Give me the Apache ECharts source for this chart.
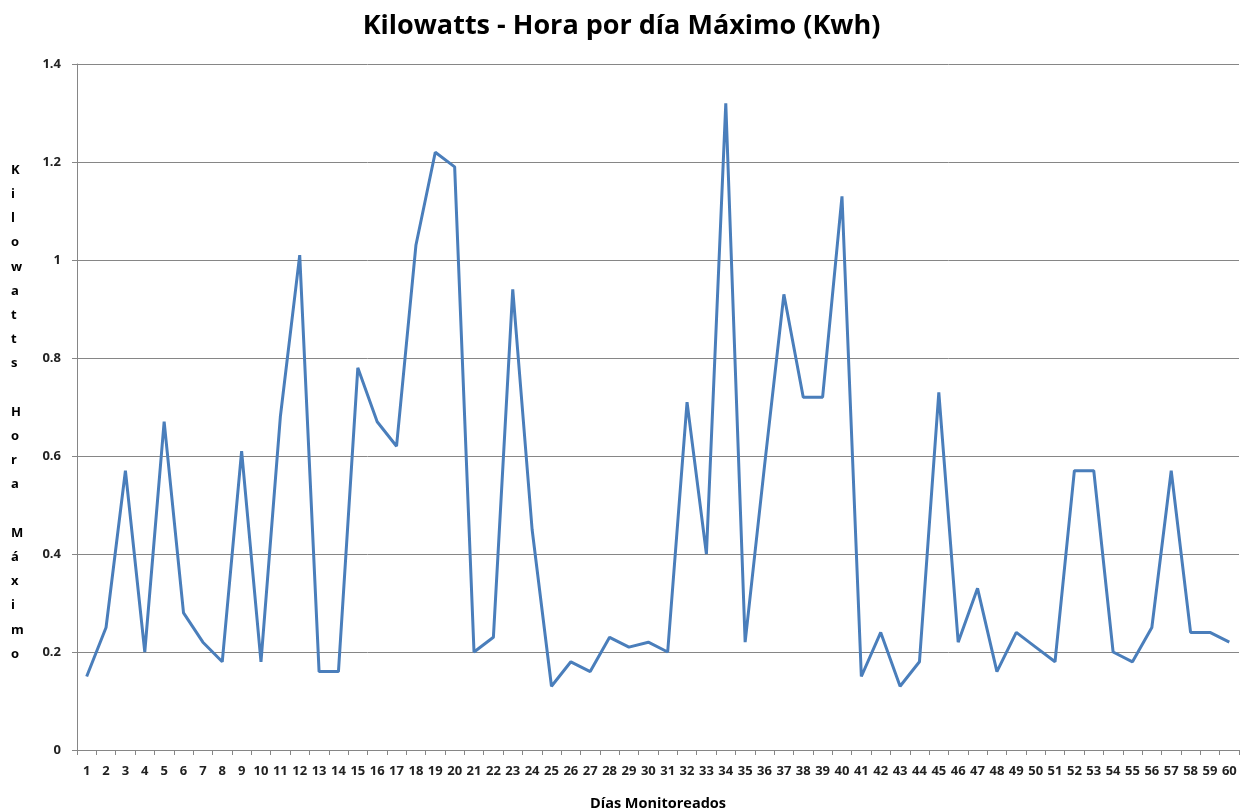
<!DOCTYPE html>
<html><head><meta charset="utf-8">
<script src="https://cdn.jsdelivr.net/npm/echarts@6/dist/echarts.min.js"></script>
<style>html,body{margin:0;padding:0;background:#fff}#c{width:1243px;height:809px}</style>
</head><body><div id="c"></div>
<script>
const days = Array.from({length:60},(_,i)=>String(i+1));
const kwhMax = [0.15,0.25,0.57,0.20,0.67,0.28,0.22,0.18,0.61,0.18,
0.68,1.01,0.16,0.16,0.78,0.67,0.62,1.03,1.22,1.19,
0.20,0.23,0.94,0.45,0.13,0.18,0.16,0.23,0.21,0.22,
0.20,0.71,0.40,1.32,0.22,0.58,0.93,0.72,0.72,1.13,
0.15,0.24,0.13,0.18,0.73,0.22,0.33,0.16,0.24,0.21,
0.18,0.57,0.57,0.20,0.18,0.25,0.57,0.24,0.24,0.22];
const titleText = 'Kilowatts - Hora por día Máximo (Kwh)';
const yName = 'Kilowatts Hora Máximo';
const xName = 'Días Monitoreados';
const font = '"Open Sans", "DejaVu Sans", sans-serif';
const chart = echarts.init(document.getElementById('c'));
chart.setOption({
  animation:false,
  backgroundColor:'#fff',
  title:{text:titleText,left:'center',top:8,textStyle:{fontFamily:font,fontSize:27,fontWeight:'bold',color:'#000'}},
  grid:{left:77,right:4,top:64,bottom:59,containLabel:false,outerBoundsMode:'none'},
  graphic:[{type:'text',left:11,top:158,style:{text:yName.split('').join('\n'),fontFamily:font,fontSize:13,fontWeight:'bold',lineHeight:24.2,fill:'#000',align:'center'}}],
  xAxis:{type:'category',data:days,boundaryGap:true,
    name:xName,nameLocation:'middle',nameGap:46,nameTextStyle:{fontFamily:font,fontSize:14.5,fontWeight:'bold',color:'#000'},
    axisLine:{lineStyle:{color:'#868686',width:1}},
    axisTick:{show:true,interval:0,length:5,lineStyle:{color:'#868686'}},
    axisLabel:{interval:0,margin:15,fontFamily:font,fontSize:13,fontWeight:'bold',color:'#222'}},
  yAxis:{type:'value',min:0,max:1.4,interval:0.2,
    axisLine:{show:true,lineStyle:{color:'#868686',width:1}},
    axisTick:{show:true,length:5,lineStyle:{color:'#868686'}},
    splitLine:{lineStyle:{color:'#868686',width:1}},
    axisLabel:{margin:16,fontFamily:font,fontSize:13,fontWeight:'bold',color:'#222',formatter:v=>String(Math.round(v*10)/10)}},
  series:[{type:'line',data:kwhMax,symbol:'none',lineStyle:{color:'#4A7EBB',width:3},itemStyle:{color:'#4A7EBB'}}]
});
</script></body></html>
